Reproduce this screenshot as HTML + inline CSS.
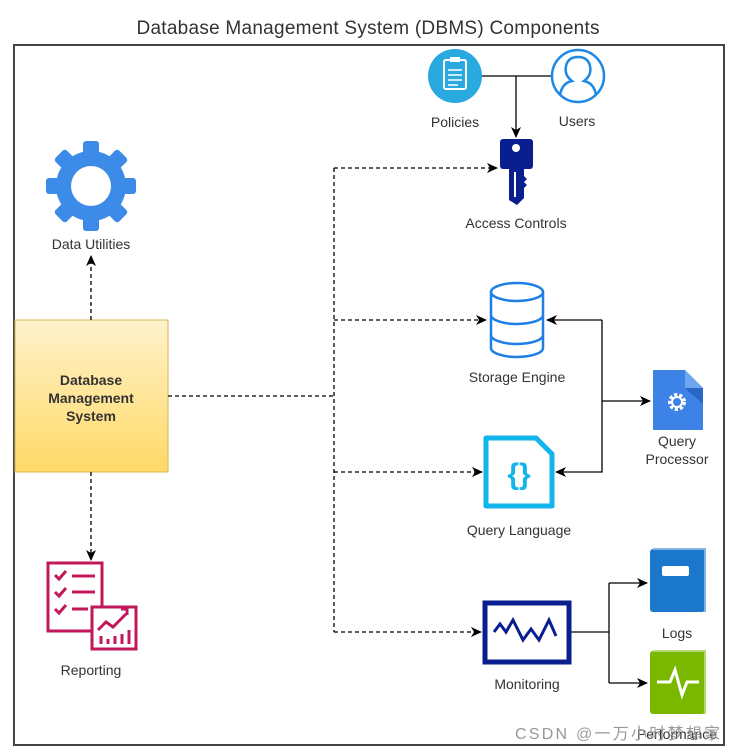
<!DOCTYPE html>
<html><head><meta charset="utf-8"><style>
body{margin:0;background:#fff;}
svg{display:block;}
text{font-family:"Liberation Sans","Noto Sans CJK SC",sans-serif;fill:#333;}
</style></head><body>
<svg width="740" height="751" viewBox="0 0 740 751" xmlns="http://www.w3.org/2000/svg">
<defs>
<marker id="a" markerWidth="12" markerHeight="12" refX="10" refY="6" orient="auto" markerUnits="userSpaceOnUse"><path d="M0,1 L11,6 L0,11 L3,6 z" fill="#000"/></marker>
<linearGradient id="g" x1="0" y1="0" x2="0" y2="1"><stop offset="0" stop-color="#fff2cc"/><stop offset="1" stop-color="#ffd966"/></linearGradient>
</defs>
<text x="368" y="34" font-size="19" text-anchor="middle" textLength="463" fill="#444">Database Management System (DBMS) Components</text>
<rect x="14" y="45" width="710" height="700" fill="none" stroke="#444" stroke-width="2"/>

<rect x="15" y="320" width="153" height="152" fill="url(#g)" stroke="#d6b656"/>
<text x="91" y="385" font-size="14" font-weight="bold" text-anchor="middle" fill="#222">Database</text>
<text x="91" y="403" font-size="14" font-weight="bold" text-anchor="middle" fill="#222">Management</text>
<text x="91" y="421" font-size="14" font-weight="bold" text-anchor="middle" fill="#222">System</text>

<g stroke="#000" stroke-width="1.3" stroke-dasharray="4,3" fill="none">
<path d="M91,320 V256" marker-end="url(#a)"/>
<path d="M91,472 V560" marker-end="url(#a)"/>
<path d="M168,396 H334"/>
<path d="M334,168 V632"/>
<path d="M334,168 H497" marker-end="url(#a)"/>
<path d="M334,320 H486" marker-end="url(#a)"/>
<path d="M334,472 H482" marker-end="url(#a)"/>
<path d="M334,632 H481" marker-end="url(#a)"/>
</g>
<g stroke="#000" stroke-width="1.3" fill="none">
<path d="M482,76 H551"/>
<path d="M516,76 V137" marker-end="url(#a)"/>
<path d="M602,320 H547" marker-end="url(#a)"/>
<path d="M602,320 V472 H556" marker-end="url(#a)"/>
<path d="M602,401 H650" marker-end="url(#a)"/>
<path d="M570,632 H609"/>
<path d="M609,583 V683"/>
<path d="M609,583 H647" marker-end="url(#a)"/>
<path d="M609,683 H647" marker-end="url(#a)"/>
</g>

<g transform="translate(91,186)" fill="#3d8be8">
<g id="t"><rect x="-8" y="-45" width="16" height="16" rx="3"/></g>
<use href="#t" transform="rotate(45)"/><use href="#t" transform="rotate(90)"/><use href="#t" transform="rotate(135)"/>
<use href="#t" transform="rotate(180)"/><use href="#t" transform="rotate(225)"/><use href="#t" transform="rotate(270)"/><use href="#t" transform="rotate(315)"/>
<circle r="35"/><circle r="20" fill="#fff"/>
</g>
<text x="91" y="249" font-size="14" text-anchor="middle">Data Utilities</text>

<g fill="none" stroke="#c2185b" stroke-width="3">
<rect x="48" y="563" width="54" height="68"/>
<path d="M55,575 l4,4 l7,-8 M55,592 l4,4 l7,-8 M55,609 l4,4 l7,-8 M72,576 H95 M72,592 H95 M72,609 H88"/>
<rect x="92" y="607" width="44" height="42" fill="#fff"/>
<path d="M98,630 l8,-8 l7,5 l13,-13 M121,609 h6 v6"/>
<path d="M101,644 v-8 M108,644 v-5 M115,644 v-8 M122,644 v-10 M129,644 v-14"/>
</g>
<text x="91" y="675" font-size="14" text-anchor="middle">Reporting</text>

<circle cx="455" cy="76" r="27" fill="#2aa8e0"/>
<rect x="444" y="60" width="22" height="29" rx="2" fill="none" stroke="#fff" stroke-width="2"/>
<rect x="450" y="57" width="10" height="5" fill="#fff"/>
<path d="M448,70 h14 M448,75 h14 M448,80 h14 M448,85 h10" stroke="#fff" stroke-width="1.5"/>
<text x="455" y="127" font-size="14" text-anchor="middle">Policies</text>
<circle cx="578" cy="76" r="26" fill="#fff" stroke="#1e88e5" stroke-width="2.5"/>
<path d="M560,95 q2,-12 12,-14 q-8,-6 -6,-15 q2,-9 12,-9 q10,0 12,9 q2,9 -6,15 q10,2 12,14" fill="none" stroke="#1e88e5" stroke-width="2.5"/>
<text x="577" y="126" font-size="14" text-anchor="middle">Users</text>

<rect x="500" y="139" width="33" height="30" rx="3" fill="#0a1f8f"/>
<circle cx="516" cy="148" r="4" fill="#fff"/>
<path d="M509,168 h15 v8 l3,3 l-3,3 l3,3 l-3,3 v10 l-7,7 l-8,-5 z" fill="#0a1f8f"/>
<path d="M515,172 v25" stroke="#fff" stroke-width="2"/>
<text x="516" y="228" font-size="14" text-anchor="middle">Access Controls</text>

<g fill="#fff" stroke="#1e7fe6" stroke-width="2.5">
<path d="M491,292 v56 a26,9 0 0 0 52,0 v-56"/>
<ellipse cx="517" cy="292" rx="26" ry="9"/>
<path d="M491,315 a26,9 0 0 0 52,0 M491,335 a26,9 0 0 0 52,0" fill="none"/>
</g>
<text x="517" y="382" font-size="14" text-anchor="middle">Storage Engine</text>

<path d="M486,438 h50 l16,16 v52 h-66 z" fill="#fff" stroke="#12b5ea" stroke-width="5" stroke-linejoin="round"/>
<text x="519" y="484" font-size="30" font-weight="bold" text-anchor="middle" fill="#12b5ea" style="fill:#12b5ea">{}</text>
<text x="519" y="535" font-size="14" text-anchor="middle">Query Language</text>

<path d="M653,370 h32 l18,18 v42 h-50 z" fill="#3d82e6"/>
<path d="M685,370 l18,18 h-18 z" fill="#6fa6f0"/>
<path d="M685,388 h18 v16 z" fill="#2a67c4"/>
<circle cx="677" cy="402" r="7" fill="none" stroke="#fff" stroke-width="4" stroke-dasharray="3,2"/>
<circle cx="677" cy="402" r="5" fill="none" stroke="#fff" stroke-width="2"/>
<text x="677" y="446" font-size="14" text-anchor="middle">Query</text>
<text x="677" y="464" font-size="14" text-anchor="middle">Processor</text>

<rect x="485" y="603" width="84" height="59" fill="#fff" stroke="#0a1f8f" stroke-width="5"/>
<path d="M494,632 l6,-8 l6,8 l7,-12 l10,20 l8,-11 l8,11 l10,-20 l7,16" fill="none" stroke="#0a1f8f" stroke-width="3"/>
<text x="527" y="689" font-size="14" text-anchor="middle">Monitoring</text>

<rect x="650" y="549" width="55" height="63" rx="3" fill="#1a77cc"/>
<path d="M653,549 h52 v63" fill="none" stroke="#7fb4e4" stroke-width="2"/>
<rect x="662" y="566" width="27" height="10" rx="2" fill="#fff"/>
<text x="677" y="638" font-size="14" text-anchor="middle">Logs</text>

<rect x="650" y="651" width="55" height="63" rx="3" fill="#7ab800"/>
<path d="M653,651 h52 v63" fill="none" stroke="#b4d870" stroke-width="2"/>
<path d="M657,682 h13 l5,-12 l7,25 l5,-13 h12" fill="none" stroke="#fff" stroke-width="3"/>
<text x="677" y="739" font-size="14" text-anchor="middle">Performance</text>
<text x="515" y="739" font-size="16" textLength="205" style="fill:#999">CSDN @一万小时梦想家</text>
</svg>
</body></html>
